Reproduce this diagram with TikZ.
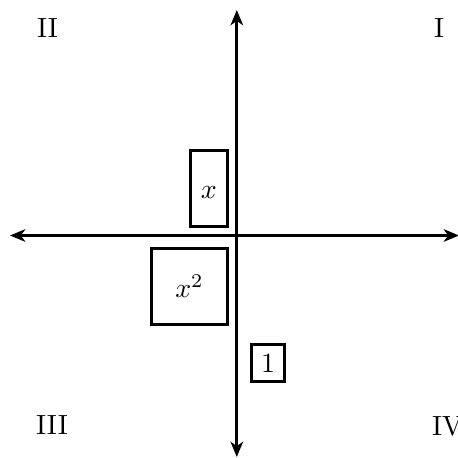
\documentclass[tikz,border=0pt]{standalone}
\usetikzlibrary{arrows.meta}
\begin{document}
\begin{tikzpicture}[x=0.36pt,y=-0.36pt,
  axis/.style={line width=1.1pt,{Stealth[length=5.5pt,width=4.5pt,inset=1.6pt]}-{Stealth[length=5.5pt,width=4.5pt,inset=1.6pt]}},
  box/.style={draw,line width=1.1pt},
  quad/.style={inner sep=0pt}]
\useasboundingbox (0,0) rectangle (457,458);
\coordinate (L) at (10,235.5);
\coordinate (R) at (459,235.5);
\coordinate (T) at (236.8,10);
\coordinate (B) at (236.8,457);
\draw[axis] (L) -- (R);
\draw[axis] (T) -- (B);
\node[box,minimum width=13.3pt,minimum height=27.4pt,text height=6.8pt,text depth=0pt] (bx) at (208.7,188.7) {$x$};
\node[box,minimum width=27.3pt,minimum height=27.3pt] (bxx) at (189.5,286.2) {$x^2$};
\node[box] (b1) at (268,363) {1};
\node[quad] (q1) at (439,28) {I};
\node[quad] (q2) at (47.5,28.5) {II};
\node[quad] (q3) at (52,425) {III};
\node[quad,anchor=west] (q4) at (431.5,426) {IV};
\end{tikzpicture}
\end{document}
